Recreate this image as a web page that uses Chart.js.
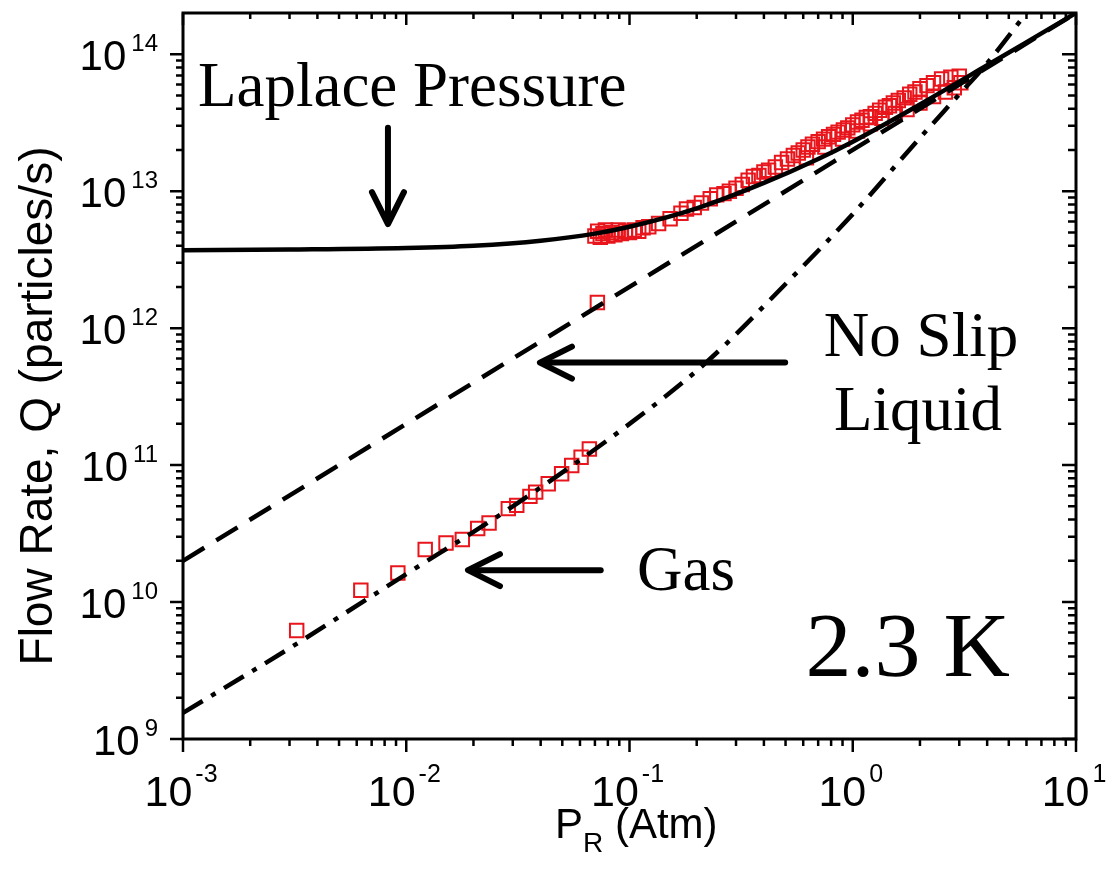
<!DOCTYPE html>
<html>
<head>
<meta charset="utf-8">
<script src="https://cdn.jsdelivr.net/npm/chart.js@4"></script>
<style>
  html, body { margin: 0; padding: 0; background: #fff; }
  #wrap { width: 1106px; height: 875px; }
</style>
</head>
<body>
<div id="wrap"><canvas id="c"></canvas></div>
<script>
// gas-phase data (open red squares, lower branch)
const gasP = [0.00323, 0.00626, 0.00917, 0.01216, 0.01507, 0.01783, 0.02089, 0.02349, 0.02865,
  0.03126, 0.03581, 0.0380, 0.04325, 0.04966, 0.0551, 0.0607, 0.0661];
const gasQ = [6.2e9, 1.22e10, 1.63e10, 2.42e10, 2.70e10, 2.86e10, 3.44e10, 3.78e10, 4.81e10,
  5.08e10, 5.91e10, 6.35e10, 7.31e10, 8.65e10, 9.93e10, 1.14e11, 1.31e11];

// liquid-phase data (upper branch)
const liquidP = [0.0718,
  0.070, 0.072, 0.074, 0.076, 0.078, 0.080, 0.083, 0.086, 0.089, 0.092, 0.096, 0.100, 0.105,
  0.110, 0.115, 0.122, 0.135, 0.152, 0.170, 0.180, 0.195, 0.210, 0.230, 0.246, 0.265, 0.280,
  0.300, 0.320, 0.340, 0.359, 0.380, 0.400, 0.420, 0.450, 0.480, 0.510, 0.542, 0.570, 0.600,
  0.630, 0.660, 0.700, 0.740, 0.780, 0.820, 0.860, 0.908, 0.950, 1.00, 1.05, 1.10, 1.15, 1.20,
  1.26, 1.32, 1.40, 1.46, 1.52, 1.60, 1.70, 1.80, 1.90, 2.00, 2.15, 2.30, 2.50, 2.75, 3.00,
  0.62, 0.75, 0.90, 1.05, 1.20, 1.35, 1.55, 1.75, 2.00, 2.30, 2.60, 2.85, 3.05];
const liquidQ = [1.54e12,
  4.7e12, 5.1e12, 4.6e12, 4.9e12, 5.2e12, 4.7e12, 5.0e12, 4.8e12, 5.2e12, 4.9e12, 5.1e12, 5.0e12, 5.2e12,
  5.1e12, 5.4e12, 5.5e12, 5.8e12, 6.3e12, 6.9e12, 7.4e12, 7.6e12, 8.2e12, 8.8e12, 9.4e12, 9.6e12, 1.0e13,
  1.05e13, 1.12e13, 1.2e13, 1.28e13, 1.3e13, 1.38e13, 1.42e13, 1.5e13, 1.62e13, 1.72e13, 1.82e13, 1.9e13, 2.0e13,
  2.1e13, 2.2e13, 2.3e13, 2.4e13, 2.5e13, 2.6e13, 2.7e13, 2.8e13, 2.9e13, 3.05e13, 3.2e13, 3.3e13, 3.45e13, 3.5e13,
  3.7e13, 3.9e13, 4.1e13, 4.2e13, 4.4e13, 4.6e13, 4.8e13, 5.1e13, 5.3e13, 5.6e13, 5.9e13, 6.2e13, 6.6e13, 6.8e13, 6.9e13,
  1.75e13, 2.1e13, 2.4e13, 2.75e13, 3.1e13, 3.4e13, 3.7e13, 3.95e13, 4.4e13, 4.9e13, 5.3e13, 5.7e13, 6.2e13];

// model curves
const laplaceP = [0.001, 0.003, 0.01, 0.02, 0.04, 0.07, 0.1, 0.2, 0.4, 0.7, 1, 2, 4, 7, 10];
const laplaceQ = [3.7e12, 3.75e12, 3.85e12, 4.0e12, 4.35e12, 4.9e12, 5.5e12, 7.5e12, 1.15e13,
  1.72e13, 2.3e13, 4.3e13, 8.3e13, 1.42e14, 2.0e14];

const noSlipP = [0.001, 10];
const noSlipQ = [2.0e10, 2.0e14];

const gasFitP = [0.001, 0.003, 0.01, 0.03, 0.1, 0.22, 0.5, 1, 2, 3, 4, 6];
const gasFitQ = [1.55e9, 4.6e9, 1.6e10, 5.0e10, 2.0e11, 5.6e11, 2.1e12, 6.8e12, 2.45e13, 5.1e13, 8.6e13, 2.0e14];

const xDecades = [-3, -2, -1, 0, 1];
const yDecades = [9, 10, 11, 12, 13, 14];

const RED = '#e8161c';
const SANS = '"Liberation Sans", Arial, sans-serif';
const SERIF = '"Liberation Serif", "Times New Roman", serif';

const pts = (xs, ys) => xs.map((x, i) => ({ x, y: ys[i] }));

const squareStyle = {
  showLine: false, pointStyle: 'rect', pointRadius: 9.5, pointBorderWidth: 2,
  pointBorderColor: RED, pointBackgroundColor: 'rgba(0,0,0,0)'
};
const lineStyle = {
  showLine: true, pointRadius: 0, borderColor: '#000', borderWidth: 4.5,
  cubicInterpolationMode: 'monotone', borderCapStyle: 'butt'
};

function arrow(ctx, x0, y0, x1, y1) {
  const a = Math.atan2(y1 - y0, x1 - x0), len = 32, half = 16;
  ctx.save();
  ctx.strokeStyle = '#000';
  ctx.lineWidth = 6;
  ctx.lineCap = 'round';
  ctx.lineJoin = 'round';
  ctx.beginPath();
  ctx.moveTo(x0, y0);
  ctx.lineTo(x1 - Math.cos(a) * 3, y1 - Math.sin(a) * 3);
  ctx.stroke();
  const bx = x1 - Math.cos(a) * len, by = y1 - Math.sin(a) * len;
  const nx = -Math.sin(a) * half, ny = Math.cos(a) * half;
  ctx.beginPath();
  ctx.moveTo(bx + nx, by + ny);
  ctx.lineTo(x1, y1);
  ctx.lineTo(bx - nx, by - ny);
  ctx.stroke();
  ctx.restore();
}

// "10" with a raised exponent
function pow10(ctx, exp, x, baseY, expY, align, baseSize, expSize, gap) {
  ctx.font = baseSize + 'px ' + SANS;
  const wb = ctx.measureText('10').width;
  ctx.font = expSize + 'px ' + SANS;
  const we = ctx.measureText(exp).width;
  const left = align === 'right' ? x - wb - gap - we : x - (wb + gap + we) / 2;
  ctx.textAlign = 'left';
  ctx.textBaseline = 'alphabetic';
  ctx.font = baseSize + 'px ' + SANS;
  ctx.fillText('10', left, baseY);
  ctx.font = expSize + 'px ' + SANS;
  ctx.fillText(exp, left + wb + gap, expY);
}

const decor = {
  id: 'decor',
  afterDatasetsDraw(chart) {
    const { ctx, chartArea: a, scales: { x, y } } = chart;
    ctx.save();
    ctx.fillStyle = '#000';
    ctx.strokeStyle = '#000';

    // minor + major ticks on all four sides
    ctx.lineWidth = 2.5;
    ctx.beginPath();
    xDecades.forEach(d => {
      for (let k = 1; k <= 9; k++) {
        const v = k * Math.pow(10, d);
        if (v > x.max * 1.0001) break;
        const px = x.getPixelForValue(v);
        const major = k === 1;
        ctx.moveTo(px, a.bottom); ctx.lineTo(px, a.bottom + (major ? 13 : 7));
        ctx.moveTo(px, a.top); ctx.lineTo(px, a.top + (major ? 12 : 6));
      }
    });
    yDecades.forEach(d => {
      for (let k = 1; k <= 9; k++) {
        const v = k * Math.pow(10, d);
        if (v > y.max * 0.999) break;
        const py = y.getPixelForValue(v);
        const major = k === 1;
        ctx.moveTo(a.left, py); ctx.lineTo(a.left - (major ? 13 : 7), py);
        ctx.moveTo(a.right, py); ctx.lineTo(a.right - (major ? 14 : 8), py);
      }
    });
    ctx.stroke();

    ctx.lineWidth = 3;
    ctx.strokeRect(a.left, a.top, a.right - a.left, a.bottom - a.top);

    // tick labels
    xDecades.forEach(d => {
      const px = x.getPixelForValue(Math.pow(10, d));
      pow10(ctx, String(d), px - 2, a.bottom + 67, a.bottom + 43, 'center', 43, 25, 3);
    });
    yDecades.forEach(d => {
      const py = y.getPixelForValue(Math.pow(10, d));
      pow10(ctx, String(d), 158, py + 16, py - 3, 'right', 42, 24, 5);
    });

    // axis titles
    ctx.textBaseline = 'alphabetic';
    ctx.textAlign = 'left';
    ctx.font = '42px ' + SANS;
    let tx = 555;
    ctx.fillText('P', tx, 838);
    tx += ctx.measureText('P').width;
    ctx.font = '28px ' + SANS;
    ctx.fillText('R', tx, 852);
    tx += ctx.measureText('R').width;
    ctx.font = '42px ' + SANS;
    ctx.fillText(' (Atm)', tx, 838);

    ctx.save();
    ctx.translate(52, 406);
    ctx.rotate(-Math.PI / 2);
    ctx.textAlign = 'center';
    ctx.font = '46px ' + SANS;
    ctx.fillText('Flow Rate, Q (particles/s)', 0, 0);
    ctx.restore();

    // annotations
    ctx.font = '63px ' + SERIF;
    ctx.textAlign = 'left';
    ctx.fillText('Laplace Pressure', 198, 106);
    ctx.textAlign = 'center';
    ctx.fillText('No Slip', 921, 356);
    ctx.fillText('Liquid', 918, 430);
    ctx.textAlign = 'left';
    ctx.fillText('Gas', 637, 590);
    ctx.font = '92px ' + SERIF;
    ctx.textAlign = 'right';
    ctx.fillText('2.3 K', 1010, 676);

    arrow(ctx, x.getPixelForValue(8.28e-3), y.getPixelForValue(2.9e13),
      x.getPixelForValue(8.28e-3), y.getPixelForValue(5.75e12));
    arrow(ctx, x.getPixelForValue(0.498), y.getPixelForValue(5.6e11),
      x.getPixelForValue(0.0397), y.getPixelForValue(5.6e11));
    arrow(ctx, x.getPixelForValue(0.0743), y.getPixelForValue(1.71e10),
      x.getPixelForValue(0.0189), y.getPixelForValue(1.71e10));
    ctx.restore();
  }
};

new Chart(document.getElementById('c'), {
  type: 'scatter',
  data: {
    datasets: [
      { ...lineStyle, data: pts(laplaceP, laplaceQ) },
      { ...lineStyle, data: pts(noSlipP, noSlipQ), borderDash: [25, 14] },
      { ...lineStyle, data: pts(gasFitP, gasFitQ), borderDash: [23, 10, 5, 10] },
      { ...squareStyle, data: pts(gasP, gasQ) },
      { ...squareStyle, data: pts(liquidP, liquidQ) }
    ]
  },
  options: {
    responsive: true,
    maintainAspectRatio: false,
    animation: false,
    layout: { padding: { top: 13, right: 30, left: 0, bottom: 0 } },
    plugins: { legend: { display: false }, tooltip: { enabled: false } },
    scales: {
      x: {
        type: 'logarithmic', min: 0.001, max: 10,
        grid: { display: false }, border: { display: false },
        ticks: { display: false },
        afterFit: s => { s.height = 136; }
      },
      y: {
        type: 'logarithmic', min: 1e9, max: 2e14,
        grid: { display: false }, border: { display: false },
        ticks: { display: false },
        afterFit: s => { s.width = 183; }
      }
    }
  },
  plugins: [decor]
});
</script>
</body>
</html>
